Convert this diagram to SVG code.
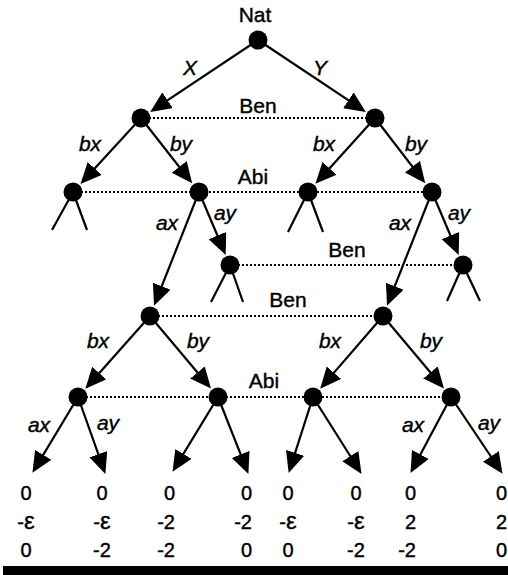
<svg xmlns="http://www.w3.org/2000/svg" width="508" height="575" viewBox="0 0 508 575">
  <style>
    .edge { stroke: #000; stroke-width: 2.2; fill: none; marker-end: url(#head); }
    .stub { stroke: #000; stroke-width: 2.2; fill: none; }
    .info { stroke: #000; stroke-width: 2; stroke-dasharray: 2 2; fill: none; }
    .node { fill: #000; }
    text { font-family: "Liberation Sans", Arial, Helvetica, sans-serif; fill: #000; stroke: #000; stroke-width: 0.4; }
    .lbl { font-size: 21px; text-anchor: middle; }
    .act { font-size: 21px; font-style: italic; text-anchor: middle; }
    .pay { font-size: 20px; }
    .eps { font-size: 24px; }
    .mid { text-anchor: middle; }
    .end { text-anchor: end; }
  </style>
  <defs>
    <marker id="head" markerUnits="userSpaceOnUse" markerWidth="23" markerHeight="20" refX="17" refY="9.5" orient="auto">
      <path d="M0,0 L21,9.5 L0,19 Z" fill="#000"/>
    </marker>
  </defs>

  <rect width="508" height="575" fill="#fff"/>

  <!-- information sets -->
  <g id="info-sets">
    <line class="info" x1="141" y1="118" x2="375" y2="118"/>
    <line class="info" x1="73" y1="192" x2="432" y2="192"/>
    <line class="info" x1="230" y1="265" x2="463" y2="265"/>
    <line class="info" x1="150" y1="316" x2="383" y2="316"/>
    <line class="info" x1="78" y1="397" x2="451" y2="397"/>
    <text class="lbl" x="258" y="113">Ben</text>
    <text class="lbl" x="253" y="184">Abi</text>
    <text class="lbl" x="347" y="257">Ben</text>
    <text class="lbl" x="288" y="307">Ben</text>
    <text class="lbl" x="264" y="388">Abi</text>
  </g>

  <!-- moves -->
  <g id="connectors">
    <line class="edge" x1="258" y1="40" x2="153.5" y2="109.7"/>
    <line class="edge" x1="258" y1="40" x2="362.5" y2="109.7"/>
    <line class="edge" x1="141" y1="118" x2="83.2" y2="181"/>
    <line class="edge" x1="141" y1="118" x2="189.7" y2="180.2"/>
    <line class="edge" x1="375" y1="118" x2="318.1" y2="180.9"/>
    <line class="edge" x1="375" y1="118" x2="422.8" y2="180.1"/>
    <line class="edge" x1="199" y1="192" x2="155.5" y2="302"/>
    <line class="edge" x1="199" y1="192" x2="224.1" y2="251.2"/>
    <line class="edge" x1="432" y1="192" x2="388.5" y2="302"/>
    <line class="edge" x1="432" y1="192" x2="457.1" y2="251.2"/>
    <line class="edge" x1="150" y1="316" x2="88" y2="385.8"/>
    <line class="edge" x1="150" y1="316" x2="208.4" y2="385.5"/>
    <line class="edge" x1="383" y1="316" x2="322.8" y2="385.6"/>
    <line class="edge" x1="383" y1="316" x2="441.4" y2="385.5"/>
    <line class="edge" x1="78" y1="397" x2="34.5" y2="469.4"/>
    <line class="edge" x1="78" y1="397" x2="104" y2="470.2"/>
    <line class="edge" x1="218" y1="397" x2="174.6" y2="468.4"/>
    <line class="edge" x1="218" y1="397" x2="246.9" y2="470.2"/>
    <line class="edge" x1="313" y1="397" x2="289.9" y2="469.1"/>
    <line class="edge" x1="313" y1="397" x2="359.4" y2="470.5"/>
    <line class="edge" x1="451" y1="397" x2="412.4" y2="469.4"/>
    <line class="edge" x1="451" y1="397" x2="500.3" y2="470.5"/>
    <!-- truncated subtrees -->
    <path class="stub" d="M73,192 L52,230 M73,192 L87,230"/>
    <path class="stub" d="M308,192 L288,232 M308,192 L323,232"/>
    <path class="stub" d="M230,265 L211,302 M230,265 L243,302"/>
    <path class="stub" d="M463,265 L447,301 M463,265 L480,301"/>
    <!-- move labels -->
    <text class="act" x="190" y="75">X</text>
    <text class="act" x="320" y="75">Y</text>
    <text class="act" x="90" y="151">bx</text>
    <text class="act" x="181" y="151">by</text>
    <text class="act" x="324" y="151">bx</text>
    <text class="act" x="416" y="151">by</text>
    <text class="act" x="167" y="230">ax</text>
    <text class="act" x="225" y="220">ay</text>
    <text class="act" x="400" y="230">ax</text>
    <text class="act" x="459" y="220">ay</text>
    <text class="act" x="98" y="348">bx</text>
    <text class="act" x="198" y="348">by</text>
    <text class="act" x="330" y="348">bx</text>
    <text class="act" x="431" y="348">by</text>
    <text class="act" x="39" y="432">ax</text>
    <text class="act" x="108" y="430">ay</text>
    <text class="act" x="413" y="432">ax</text>
    <text class="act" x="489" y="430">ay</text>
  </g>

  <!-- decision nodes -->
  <g id="nat"><circle class="node" cx="258" cy="40" r="9.5"/><text class="lbl" x="255" y="22">Nat</text></g>
  <g id="ben-x"><circle class="node" cx="141" cy="118" r="9.5"/></g>
  <g id="ben-y"><circle class="node" cx="375" cy="118" r="9.5"/></g>
  <g id="abi-x-bx"><circle class="node" cx="73" cy="192" r="9.5"/></g>
  <g id="abi-x-by"><circle class="node" cx="199" cy="192" r="9.5"/></g>
  <g id="abi-y-bx"><circle class="node" cx="308" cy="192" r="9.5"/></g>
  <g id="abi-y-by"><circle class="node" cx="432" cy="192" r="9.5"/></g>
  <g id="ben-x-ay"><circle class="node" cx="230" cy="265" r="9.5"/></g>
  <g id="ben-y-ay"><circle class="node" cx="463" cy="265" r="9.5"/></g>
  <g id="ben-x-ax"><circle class="node" cx="150" cy="316" r="9.5"/></g>
  <g id="ben-y-ax"><circle class="node" cx="383" cy="316" r="9.5"/></g>
  <g id="abi-x-bx2"><circle class="node" cx="78" cy="397" r="9.5"/></g>
  <g id="abi-x-by2"><circle class="node" cx="218" cy="397" r="9.5"/></g>
  <g id="abi-y-bx2"><circle class="node" cx="313" cy="397" r="9.5"/></g>
  <g id="abi-y-by2"><circle class="node" cx="451" cy="397" r="9.5"/></g>

  <!-- payoffs -->
  <g id="leaf-1" class="pay mid"><text x="26" y="500">0</text><text x="26" y="529">-<tspan class="eps">ε</tspan></text><text x="26" y="557">0</text></g>
  <g id="leaf-2" class="pay mid"><text x="102" y="500">0</text><text x="102" y="529">-<tspan class="eps">ε</tspan></text><text x="102" y="557">-2</text></g>
  <g id="leaf-3" class="pay end"><text x="175" y="500">0</text><text x="175" y="529">-2</text><text x="175" y="557">-2</text></g>
  <g id="leaf-4" class="pay end"><text x="252" y="500">0</text><text x="252" y="529">-2</text><text x="252" y="557">0</text></g>
  <g id="leaf-5" class="pay mid"><text x="288" y="500">0</text><text x="288" y="529">-<tspan class="eps">ε</tspan></text><text x="288" y="557">0</text></g>
  <g id="leaf-6" class="pay mid"><text x="356" y="500">0</text><text x="356" y="529">-<tspan class="eps">ε</tspan></text><text x="356" y="557">-2</text></g>
  <g id="leaf-7" class="pay end"><text x="416" y="500">0</text><text x="416" y="529">2</text><text x="416" y="557">-2</text></g>
  <g id="leaf-8" class="pay end"><text x="507" y="500">0</text><text x="507" y="529">2</text><text x="507" y="557">0</text></g>

  <rect x="3" y="566" width="505" height="9" fill="#000"/>
</svg>
